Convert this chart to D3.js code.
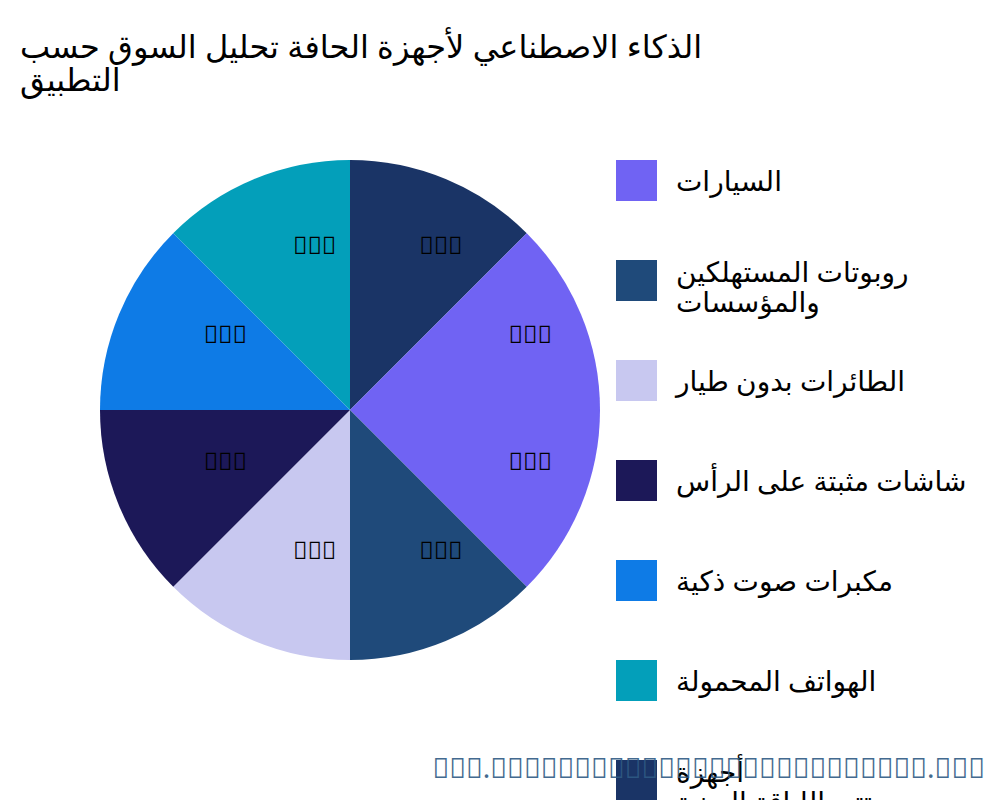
<!DOCTYPE html>
<html><head><meta charset="utf-8">
<script src="https://cdn.jsdelivr.net/npm/d3@7"></script>
<style>body{margin:0;background:#fff;overflow:hidden}</style></head>
<body><svg id="c" width="1000" height="800"></svg>
<script>
const categories = ["السيارات","روبوتات المستهلكين|والمؤسسات","الطائرات بدون طيار","شاشات مثبتة على الرأس","مكبرات صوت ذكية","الهواتف المحمولة","أجهزة|تتبع اللياقة البدنية","أخرى"];
const values = [12.5,12.5,12.5,12.5,12.5,12.5,12.5,12.5];
const sliceLabels = ["\uE000\uE000\uE000","\uE000\uE000\uE000","\uE000\uE000\uE000","\uE000\uE000\uE000","\uE000\uE000\uE000","\uE000\uE000\uE000","\uE000\uE000\uE000","\uE000\uE000\uE000"];
const colors = ["#7063f3","#1f4a7a","#c8c8f0","#1c1858","#0e7be6","#039fba","#1a3466"];
const title = ["الذكاء الاصطناعي لأجهزة الحافة تحليل السوق حسب","التطبيق"];
const watermark = "\uE000\uE000\uE000.\uE000\uE000\uE000\uE000\uE000\uE000\uE000\uE000\uE000\uE000\uE000\uE000\uE000\uE000\uE000\uE000\uE000\uE000\uE000\uE000\uE000\uE000\uE000\uE000\uE000\uE000.\uE000\uE000\uE000";

const svg = d3.select("#c");
const font = "'Noto Sans', 'DejaVu Sans', sans-serif";
const color = d3.scaleOrdinal().domain(d3.range(categories.length)).range(colors);
const t = svg.append("text").attr("font-family",font).attr("font-size",32).attr("fill","#000");
title.forEach((l,i)=>t.append("tspan").attr("x",20).attr("y",58+i*33).text(l));

const cx=350, cy=410, r=250;
const pie = d3.pie().sort(null).value(d=>d).startAngle(Math.PI/2).endAngle(Math.PI/2+2*Math.PI);
const arcs = pie(values);
const arc = d3.arc().innerRadius(0).outerRadius(r);
const lab = d3.arc().innerRadius(r*0.66).outerRadius(r*0.66);
const g = svg.append("g").attr("transform",`translate(${cx},${cy})`);
g.selectAll("path").data(arcs).join("path").attr("d",arc).attr("fill",(d,i)=>color(i));
g.selectAll("text").data(arcs).join("text")
 .attr("transform",d=>{const c=lab.centroid(d);return `translate(${c[0]+28},${c[1]-13})`;})
 .attr("text-anchor","middle").attr("dominant-baseline","central")
 .attr("font-family",font).attr("font-size",24).attr("fill","#000")
 .text((d,i)=>sliceLabels[i]);

const lg = svg.append("g");
categories.forEach((c,i)=>{
  const y=160+i*100;
  lg.append("rect").attr("x",616).attr("y",y).attr("width",41).attr("height",41).attr("fill",color(i));
  const tx=lg.append("text").attr("font-family",font).attr("font-size",28).attr("fill","#000");
  const lines=c.split("|");
  lines.forEach((l,j)=>tx.append("tspan").attr("x",676).attr("y",y+31+(lines.length>1?-9:0)+j*30).text(l));
});
svg.append("text").attr("x",985).attr("y",778).attr("text-anchor","end")
 .attr("font-family",font).attr("font-size",28).attr("fill","#2f5a84").attr("opacity",0.9).text(watermark);
</script></body></html>
